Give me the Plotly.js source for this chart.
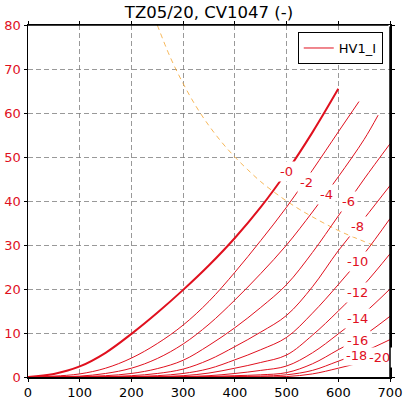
<!DOCTYPE html>
<html>
<head>
<meta charset="utf-8">
<script src="https://cdn.plot.ly/plotly-3.0.1.min.js"></script>
<style>html,body{margin:0;padding:0;background:#fff;}#chart{width:408px;height:399px;}</style>
</head>
<body>
<div id="chart"></div>
<script>
// Plate voltage (V) samples
var vStd = [0, 50, 100, 150, 200, 250, 300, 350, 400, 450, 500, 550, 600, 650, 700];
var v0 = [0, 50, 100, 150, 200, 250, 300, 350, 400, 450, 500, 550, 600];
var v2 = [0, 50, 100, 150, 200, 250, 300, 350, 400, 450, 500, 550, 600, 640];
var v4 = [0, 50, 100, 150, 200, 250, 300, 350, 400, 450, 500, 550, 600, 650, 677];

// Plate current (mA) per grid voltage
var ia_g0  = [0, 0.7, 2.4, 5.5, 9.8, 14.6, 19.8, 25.4, 31.6, 38.6, 46.6, 55.6, 65.5];
var ia_g2  = [0, 0.2, 0.7, 2.0, 4.3, 7.6, 11.8, 17.2, 23.8, 31, 38.6, 47, 55.7, 62.6];
var ia_g4  = [0, 0.05, 0.2, 0.8, 2.0, 4.2, 7.5, 12.0, 17.5, 23.5, 30, 37.5, 45.5, 54, 59.5];
var ia_g6  = [0, 0, 0.1, 0.3, 0.8, 1.9, 3.8, 7.2, 11.2, 15.8, 21, 28.3, 36.6, 45, 53];
var ia_g8  = [0, 0, 0, 0.1, 0.3, 0.8, 1.8, 3.9, 6.9, 10.2, 14, 20.5, 28.7, 36, 43.5];
var ia_g10 = [0, 0, 0, 0, 0.1, 0.3, 0.8, 1.9, 3.9, 6.2, 9, 14.5, 21, 28, 36];
var ia_g12 = [0, 0, 0, 0, 0, 0.1, 0.3, 0.9, 2.0, 3.3, 5, 9.5, 15, 21, 28];
var ia_g14 = [0, 0, 0, 0, 0, 0, 0.1, 0.3, 0.8, 1.5, 2.5, 5.5, 9.8, 14.5, 20];
var ia_g16 = [0, 0, 0, 0, 0, 0, 0, 0.1, 0.3, 0.5, 1.0, 3, 6.2, 9.5, 13.8];
var ia_g18 = [0, 0, 0, 0, 0, 0, 0, 0, 0.1, 0.2, 0.5, 1.5, 3.6, 5.8, 8.5];
var ia_g20 = [0, 0, 0, 0, 0, 0, 0, 0, 0, 0.05, 0.1, 0.7, 2.0, 3.5, 5.2];

// 20 W dissipation curve
var pd_v = [250, 275, 300, 325, 350, 375, 400, 425, 450, 475, 500, 525, 550, 575, 600, 625, 650, 675];
var pd_i = [80, 72.7, 66.7, 61.5, 57.1, 53.3, 50, 47.1, 44.4, 42.1, 40, 38.1, 36.4, 34.8, 33.3, 32, 30.8, 29.6];

var gridLabels = ['-0', '-2', '-4', '-6', '-8', '-10', '-12', '-14', '-16', '-18', '-20'];
var xTicks = [0, 100, 200, 300, 400, 500, 600, 700];
var yTicks = [0, 10, 20, 30, 40, 50, 60, 70, 80];

var RED = '#e0101e';
var curves = [
  [v0, ia_g0], [v2, ia_g2], [v4, ia_g4], [vStd, ia_g6], [vStd, ia_g8], [vStd, ia_g10],
  [vStd, ia_g12], [vStd, ia_g14], [vStd, ia_g16], [vStd, ia_g18], [vStd, ia_g20]
];

var traces = [];
traces.push({
  x: pd_v, y: pd_i, type: 'scatter', mode: 'lines', showlegend: false, hoverinfo: 'skip',
  line: {color: 'rgba(245,170,60,0.85)', width: 1, dash: '5px,4px', shape: 'spline'}
});
curves.forEach(function (c, i) {
  traces.push({
    x: c[0], y: c[1], type: 'scatter', mode: 'lines',
    name: 'HV1_I', showlegend: i === 1,
    line: {color: RED, width: i === 0 ? 2 : 1, shape: 'spline', smoothing: 1}
  });
});

// label positions (data coords)
var labelPos = [[499, 46.6], [538, 44.3], [578, 41.4], [619, 40], [638, 34.3], [638, 26.2],
                [638, 19.3], [638, 13.2], [638, 8.3], [636, 4.8], [679, 4.5]];
var annotations = gridLabels.map(function (t, i) {
  return {
    x: labelPos[i][0], y: labelPos[i][1], xref: 'x', yref: 'y', text: t, showarrow: false,
    font: {family: 'DejaVu Sans', size: 13, color: RED},
    bgcolor: 'white', borderpad: 2
  };
});

// top and right frame edges drawn as headless arrows (not clipped)
var xMax = xTicks[xTicks.length - 1], yMax = yTicks[yTicks.length - 1];
annotations.push({x: xMax, y: 0, ax: xMax, ay: yMax, xref: 'x', yref: 'y', axref: 'x', ayref: 'y',
                  text: '', showarrow: true, arrowhead: 0, arrowwidth: 1.5, arrowcolor: 'black',
                  standoff: 0, startstandoff: 0});
annotations.push({x: 0, y: yMax, ax: xMax, ay: yMax, xref: 'x', yref: 'y', axref: 'x', ayref: 'y',
                  text: '', showarrow: true, arrowhead: 0, arrowwidth: 1.5, arrowcolor: 'black',
                  standoff: 0, startstandoff: 0});

var gridStyle = {gridcolor: 'rgba(128,128,128,0.8)', gridwidth: 1, griddash: '5px,3px'};

var layout = {
  width: 408, height: 399,
  margin: {l: 28, r: 18, t: 25, b: 22},
  paper_bgcolor: 'white', plot_bgcolor: 'white',
  font: {family: 'DejaVu Sans', size: 13, color: 'black'},
  title: {text: 'TZ05/20, CV1047 (-)', font: {family: 'DejaVu Sans', size: 16.5, color: 'black'},
          x: 0.5, xref: 'paper', xanchor: 'center', y: 0.97, yref: 'container', yanchor: 'middle'},
  xaxis: Object.assign({
    range: [0, 700], tickvals: xTicks, ticktext: xTicks.map(String), showgrid: true,
    showline: true, linecolor: 'black', linewidth: 1.5, mirror: 'allticks',
    ticks: 'outside', ticklen: 3, tickcolor: 'black', zeroline: false,
    tickfont: {family: 'DejaVu Sans', size: 13, color: 'black'}
  }, gridStyle),
  yaxis: Object.assign({
    range: [0, 80], tickvals: yTicks, ticktext: yTicks.map(String), showgrid: true,
    showline: true, linecolor: 'black', linewidth: 1.5, mirror: 'allticks',
    ticks: 'outside', ticklen: 3, tickcolor: 'black', zeroline: false,
    tickfont: {family: 'DejaVu Sans', size: 13, color: RED}
  }, gridStyle),
  showlegend: true,
  legend: {x: 0.98, y: 0.98, xanchor: 'right', yanchor: 'top', bgcolor: 'white',
           bordercolor: 'black', borderwidth: 1, tracegroupgap: 0,
           font: {family: 'DejaVu Sans', size: 13, color: 'black'}},
  annotations: annotations
};

Plotly.newPlot('chart', traces, layout, {displayModeBar: false, staticPlot: true});
</script>
</body>
</html>
